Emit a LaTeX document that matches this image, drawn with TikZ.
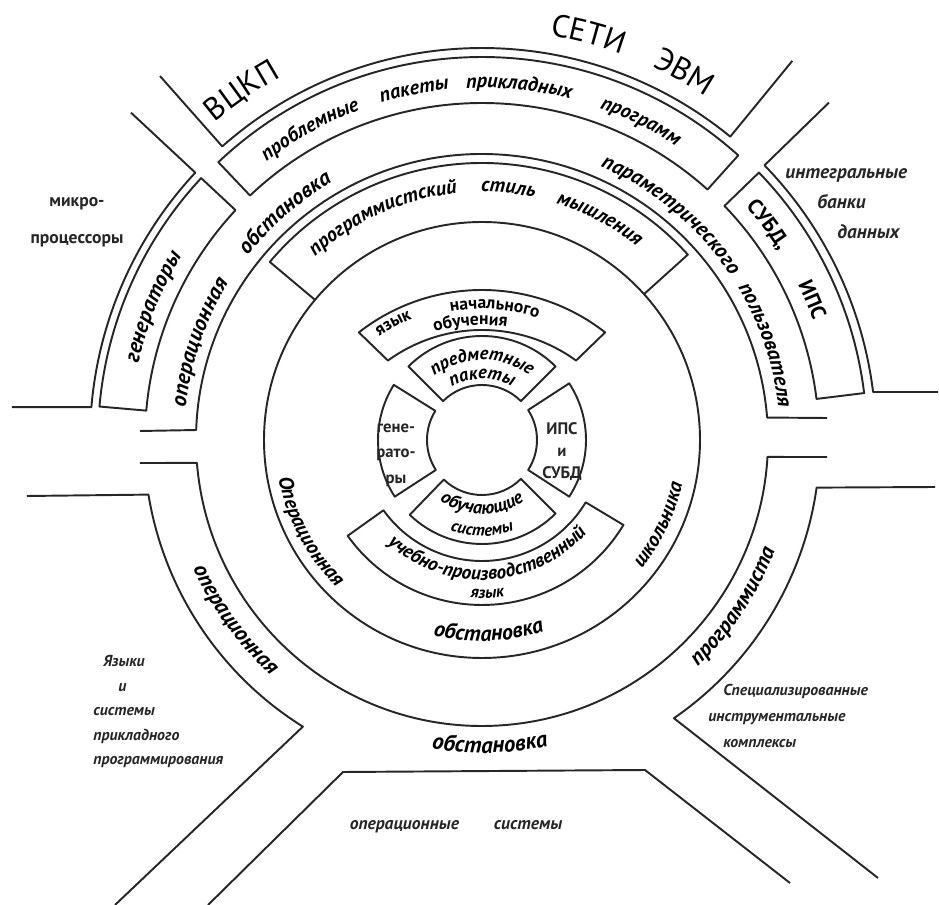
\documentclass[tikz,border=0pt]{standalone}
\usepackage{fontspec}
\setmainfont{PT Sans}
\usetikzlibrary{decorations.text}

\newcommand{\hwup}[2]{\upshape\fontsize{#1}{#2}\selectfont}
\newcommand{\hwbf}[2]{\bfseries\upshape\fontsize{#1}{#2}\selectfont}
\newcommand{\hwit}[2]{\bfseries\itshape\fontsize{#1}{#2}\selectfont}
% word on an arc round the centre: radius, mid angle, format, word
\newcommand{\cwword}[4]{%
  \path[decorate, decoration={text along path, text align=center, text={|#3|#4}}]
    (#2+60:#1) arc[start angle=#2+60, end angle=#2-60, radius=#1];}
\newcommand{\ccwword}[4]{%
  \path[decorate, decoration={text along path, text align=center, text={|#3|#4}}]
    (#2-60:#1) arc[start angle=#2-60, end angle=#2+60, radius=#1];}

\begin{document}
\begin{tikzpicture}[
    x=0.02cm, y=0.02cm,
    wall/.style={draw=black!85, line width=1.1pt, line join=round},
    lbl/.style={inner sep=0pt, align=center, text=black!85}
]
    \useasboundingbox (-482,-465) rectangle (457,440);

    % Outer regions
    \draw[wall] (131.5:486) -- (131.5:392) arc[start angle=131.5, end angle=50.7, radius=392] -- (50.7:490);
    \draw[wall] (137:480) -- (137:392) arc[start angle=137, end angle=175.2, radius=392] -- (-470,32.8);
    \draw[wall] (44.2:484) -- (44.2:394) arc[start angle=44.2, end angle=7, radius=394] -- (456,48);
    \draw[wall] (-455,-56) -- (189.3:338) arc[start angle=189.3, end angle=238, radius=338] -- (-367,-465);
    \draw[wall] (453,-47) -- (351.9:338) arc[start angle=351.9, end angle=304.6, radius=338] -- (396,-438);
    \draw[wall] (-274,-465) -- (-139,-332) -- (163,-330) -- (308,-443);

    % Bands of the upper ring
    \draw[wall] (133.5:337) -- (133.5:383) arc[start angle=133.5, end angle=48, radius=383]
        -- (48:337) arc[start angle=48, end angle=133.5, radius=337] -- cycle;
    \draw[wall] (137:337) -- (137:384) arc[start angle=137, end angle=175, radius=384]
        -- (175:337) arc[start angle=175, end angle=137, radius=337] -- cycle;
    \draw[wall] (44:337) -- (44:385) arc[start angle=44, end angle=7, radius=385]
        -- (7:337) arc[start angle=7, end angle=44, radius=337] -- cycle;

    % Operational environment rings
    \draw[wall] (-342,9) -- (178:286) arc[start angle=178, end angle=4.5, radius=286] -- (345,22);
    \draw[wall] (-342,-23) -- (184.6:286) arc[start angle=184.6, end angle=356.6, radius=286] -- (345,-17);

    % School circle and programmer band
    \draw[wall] (0,0) circle[radius=218];
    \draw[wall] (140:218) -- (140:277) arc[start angle=140, end angle=42, radius=277] -- (42:218);

    % Core
    \foreach \a/\b in {45/135, 148/213, 226/315, -33/33}
        \draw[wall] (\a:55) -- (\a:104) arc[start angle=\a, end angle=\b, radius=104]
            -- (\b:55) arc[start angle=\b, end angle=\a, radius=55] -- cycle;
    \begin{scope}[shift={(0,-50)}]
        \draw[wall] (126:160) -- (128:200) arc[start angle=128, end angle=52, radius=200]
            -- (54:160) arc[start angle=54, end angle=126, radius=160] -- cycle;
        \cwword{185}{118}{\hwbf{10}{12}}{язык}
        \cwword{181}{86}{\hwbf{10}{12}}{начального}
        \cwword{165}{94}{\hwbf{10}{12}}{обучения}
    \end{scope}
    \draw[wall] (215.5:121) -- (215.5:165) arc[start angle=215.5, end angle=329, radius=165]
        -- (329:121) arc[start angle=329, end angle=215.5, radius=121] -- cycle;

    % Words along the rings
    \cwword{415}{124.5}{\hwup{18}{20}}{ВЦКП}
    \cwword{410}{75.3}{\hwup{18}{20}}{СЕТИ}
    \cwword{410}{61.2}{\hwup{18}{20}}{ЭВМ}
    \cwword{352}{119}{\hwit{11.5}{14}}{проблемные}
    \cwword{352}{101}{\hwit{11.5}{14}}{пакеты}
    \cwword{352}{84}{\hwit{11.5}{14}}{прикладных}
    \cwword{352}{63.5}{\hwit{11.5}{14}}{программ}
    \cwword{352}{158}{\hwit{12.5}{15}}{генераторы}
    \cwword{352}{37}{\hwbf{12}{14}}{СУБД,}
    \cwword{352}{23}{\hwbf{12}{14}}{ИПС}
    \cwword{298}{161}{\hwit{12.5}{15}}{операционная}
    \cwword{298}{131}{\hwit{12.5}{15}}{обстановка}
    \cwword{298}{50}{\hwit{12}{15}}{параметрического}
    \cwword{298}{18.5}{\hwit{12}{15}}{пользователя}
    \cwword{248}{114}{\hwit{11.5}{14}}{программистский}
    \cwword{248}{84}{\hwit{11.5}{14}}{стиль}
    \cwword{248}{62}{\hwit{11.5}{14}}{мышления}
    \ccwword{207}{208}{\hwit{11.5}{14}}{Операционная}
    \ccwword{201}{272}{\hwit{12.5}{14}}{обстановка}
    \ccwword{205}{334.5}{\hwit{11.5}{14}}{школьника}
    \ccwword{316}{216}{\hwit{12.5}{15}}{операционная}
    \ccwword{313}{271.5}{\hwit{13}{15}}{обстановка}
    \ccwword{313}{326.5}{\hwit{12.5}{15}}{программиста}
    \cwword{80}{90}{\hwit{10.5}{13}}{предметные}
    \cwword{61}{90}{\hwit{10.5}{13}}{пакеты}
    \ccwword{74}{270}{\hwit{10.5}{13}}{обучающие}
    \ccwword{96}{270}{\hwit{9.5}{12}}{системы}
    \ccwword{140}{273}{\hwit{11}{13}}{учебно-производственный}
    \ccwword{158}{272}{\hwit{9.5}{12}}{язык}

    % Labels
    \node[lbl, font=\hwbf{9.5}{14.5}] (gen) at (-86,-15) {гене-\\рато-\\ры};
    \node[lbl, font=\hwbf{9.5}{12.5}] (ips) at (80,-12) {ИПС\\и\\СУБД};
    \node[lbl, font=\hwbf{10}{21}] (micro) at (-405,218) {микро-\\процессоры};
    \node[lbl, font=\hwit{11}{17}, anchor=north west, align=left] (banks) at (303,272)
        {интегральные\\\hspace*{0.64cm}банки\\\hspace*{1.04cm}данных};
    \node[lbl, font=\hwit{9}{14}, anchor=north west, align=left] (langs) at (-389,-215)
        {\hspace*{0.2cm}Языки\\\hspace*{0.5cm}и\\системы\\прикладного\\программирования};
    \node[lbl, font=\hwit{9}{14.8}, anchor=north west, align=left] (tools) at (226,-244)
        {\hspace*{0.3cm}Специализированные\\инструментальные\\\hspace*{0.3cm}комплексы};
    \node[lbl, font=\hwit{10}{12}] (os) at (-26,-387) {операционные\hspace{0.7cm}системы};
\end{tikzpicture}
\end{document}
